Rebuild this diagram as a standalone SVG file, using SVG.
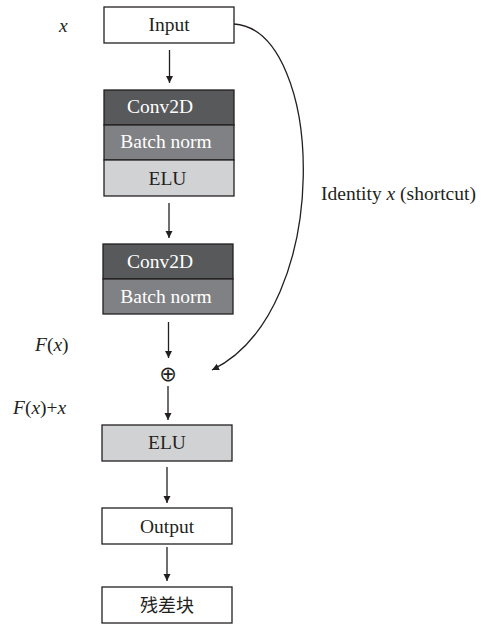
<svg xmlns="http://www.w3.org/2000/svg" width="486" height="625" viewBox="0 0 486 625">
<defs>
<marker id="ah" viewBox="0 0 10 10" refX="10" refY="5" markerWidth="7" markerHeight="9" markerUnits="userSpaceOnUse" orient="auto">
<path d="M0,0 L10,5 L0,10 Z" fill="#231f20"/>
</marker>
<style>
.box{stroke:#231f20;stroke-width:1.3}
.t{font-family:'Liberation Serif','Times New Roman','DejaVu Serif',serif;font-size:19.5px;text-anchor:middle}
.lbl{font-family:'Liberation Serif','Times New Roman','DejaVu Serif',serif;font-size:19.5px}
.w{fill:#ffffff}
.k{fill:#231f20}
.ln{stroke:#231f20;stroke-width:1.3;fill:none}
</style>
</defs>
<rect width="486" height="625" fill="#ffffff"/>
<g id="connectors">
<line class="ln" x1="169.5" y1="50" x2="169.5" y2="83" marker-end="url(#ah)"/>
<line class="ln" x1="169" y1="203" x2="169" y2="238" marker-end="url(#ah)"/>
<line class="ln" x1="168.5" y1="322" x2="168.5" y2="358" marker-end="url(#ah)"/>
<line class="ln" x1="168" y1="386" x2="168" y2="420" marker-end="url(#ah)"/>
<line class="ln" x1="167" y1="467" x2="167" y2="503" marker-end="url(#ah)"/>
<line class="ln" x1="167" y1="547" x2="167" y2="581" marker-end="url(#ah)"/>
<path class="ln" d="M234,24 C325,30 335,310 212,370" marker-end="url(#ah)"/>
</g>
<g id="input">
<rect class="box" x="104" y="7" width="130" height="36" fill="#ffffff"/>
<text class="t k" x="169" y="31">Input</text>
</g>
<g id="block1">
<rect class="box" x="104" y="90" width="130" height="35" fill="#58595b"/>
<text class="t w" x="160" y="113">Conv2D</text>
<rect class="box" x="104" y="125" width="130" height="35" fill="#808184"/>
<text class="t w" x="166" y="148">Batch norm</text>
<rect class="box" x="104" y="160" width="130" height="36" fill="#d1d2d4"/>
<text class="t k" x="167.5" y="185">ELU</text>
</g>
<g id="block2">
<rect class="box" x="103" y="244" width="130" height="35" fill="#58595b"/>
<text class="t w" x="160" y="268">Conv2D</text>
<rect class="box" x="103" y="279" width="130" height="35" fill="#808184"/>
<text class="t w" x="166" y="303">Batch norm</text>
</g>
<g id="add">
<text x="168" y="380.5" font-family="'DejaVu Sans', sans-serif" font-size="21" text-anchor="middle" fill="#231f20">⊕</text>
</g>
<g id="elu2">
<rect class="box" x="102" y="425" width="130" height="36" fill="#d1d2d4"/>
<text class="t k" x="167" y="449">ELU</text>
</g>
<g id="output">
<rect class="box" x="102" y="508" width="130" height="36" fill="#ffffff"/>
<text class="t k" x="167" y="533">Output</text>
</g>
<g id="resblock">
<rect class="box" x="102" y="587" width="130" height="36" fill="#ffffff"/>
<text class="t k" x="167" y="612" style="font-family:'Noto Sans CJK SC',sans-serif;font-size:18px">残差块</text>
</g>
<g id="labels">
<text class="lbl k" x="59" y="32" font-style="italic">x</text>
<text class="lbl k" x="35" y="351"><tspan font-style="italic">F</tspan>(<tspan font-style="italic">x</tspan>)</text>
<text class="lbl k" x="13" y="414"><tspan font-style="italic">F</tspan>(<tspan font-style="italic">x</tspan>)+<tspan font-style="italic">x</tspan></text>
<text class="lbl k" x="321" y="200">Identity <tspan font-style="italic">x</tspan> (shortcut)</text>
</g>
</svg>
